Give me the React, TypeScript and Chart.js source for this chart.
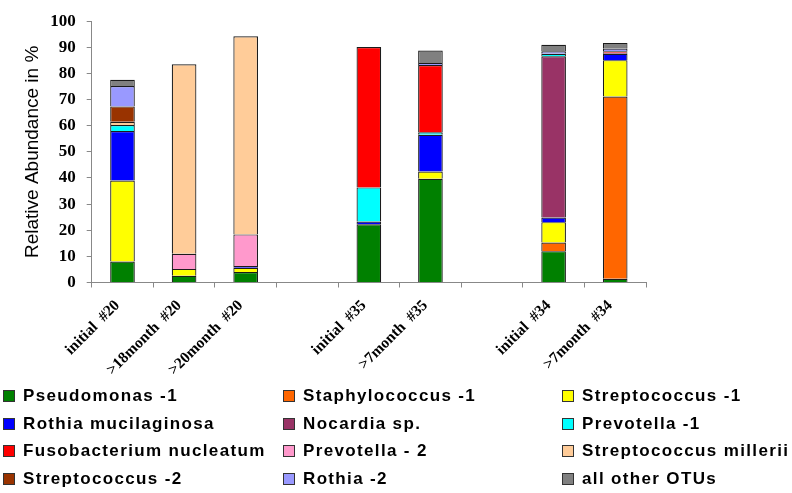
import React, { useEffect, useRef } from 'react';
import { Chart, registerables } from 'chart.js';

Chart.register(...registerables);

const categories = ['initial\u00A0\u00A0#20', '>18month\u00A0\u00A0#20', '>20month\u00A0\u00A0#20', '', 'initial\u00A0\u00A0#35', '>7month\u00A0\u00A0#35', '', 'initial\u00A0\u00A0#34', '>7month\u00A0\u00A0#34'];

const pseudomonas1 = [8, 2.6, 4, 0, 22.3, 39.7, 0, 12, 1.4];
const staphylococcus1 = [0, 0, 0, 0, 0, 0, 0, 3.3, 69.8];
const streptococcus1 = [31, 2.6, 1.6, 0, 0, 2.8, 0, 7.8, 13.9];
const rothiaMucilaginosa = [19, 0, 0.7, 0, 1.0, 14, 0, 1.8, 2.4];
const nocardiaSp = [0, 0, 0, 0, 0, 0, 0, 61.7, 0.4];
const prevotella1 = [2.3, 0, 0, 0, 13.1, 1.0, 0, 0.9, 0];
const fusobacteriumNucleatum = [0, 0, 0, 0, 53.7, 25.7, 0, 0, 0.6];
const prevotella2 = [0, 5.8, 12.1, 0, 0, 0, 0, 0, 0];
const streptococcusMillerii = [1.2, 72.5, 75.8, 0, 0, 0, 0, 0, 0];
const streptococcus2 = [5.9, 0, 0, 0, 0, 0, 0, 0, 0];
const rothia2 = [7.8, 0, 0, 0, 0, 0.8, 0, 1.0, 1.0];
const allOtherOTUs = [2.4, 0, 0, 0, 0, 4.8, 0, 2.5, 2.2];

const seriesNames = [
  'Pseudomonas -1', 'Staphylococcus -1', 'Streptococcus -1',
  'Rothia mucilaginosa', 'Nocardia sp.', 'Prevotella -1',
  'Fusobacterium nucleatum', 'Prevotella - 2', 'Streptococcus millerii',
  'Streptococcus -2', 'Rothia -2', 'all other OTUs',
];
const seriesValues = [
  pseudomonas1, staphylococcus1, streptococcus1,
  rothiaMucilaginosa, nocardiaSp, prevotella1,
  fusobacteriumNucleatum, prevotella2, streptococcusMillerii,
  streptococcus2, rothia2, allOtherOTUs,
];
const seriesColors = [
  '#008000', '#FF6600', '#FFFF00',
  '#0000FF', '#993366', '#00FFFF',
  '#FF0000', '#FF99CC', '#FFCC99',
  '#993300', '#9999FF', '#808080',
];

const yTicks = [0, 10, 20, 30, 40, 50, 60, 70, 80, 90, 100];

const legendColX = [3, 283, 562];
const legendRowY = [396, 424, 451, 479];

export default function App() {
  const canvasRef = useRef<HTMLCanvasElement | null>(null);

  useEffect(() => {
    document.body.style.margin = '0';
    const canvas = canvasRef.current;
    if (!canvas) return;
    const chart = new Chart(canvas, {
      type: 'bar',
      data: {
        labels: categories,
        datasets: seriesNames.map((name, i) => ({
          label: name,
          data: seriesValues[i].map((v) => (v === 0 ? null : v)),
          backgroundColor: seriesColors[i],
          borderColor: 'rgba(15,15,15,0.95)',
          borderWidth: 1.2,
          barPercentage: 0.4,
          categoryPercentage: 1,
        })),
      },
      options: {
        animation: false,
        responsive: false,
        maintainAspectRatio: false,
        layout: { padding: { top: 9.5, right: 146, left: 0, bottom: 0 } },
        plugins: { legend: { display: false }, tooltip: { enabled: false } },
        scales: {
          x: {
            stacked: true,
            grid: { display: true, drawOnChartArea: false, offset: true, tickLength: 5, color: '#888' },
            border: { color: '#888' },
            ticks: {
              autoSkip: false,
              maxRotation: 45,
              minRotation: 45,
              color: '#000',
              padding: 9,
              labelOffset: -5,
              font: { family: 'Liberation Serif', weight: 'bold', size: 15.5 },
            },
            afterFit: (s: any) => { s.height = 210.5; },
          },
          y: {
            stacked: true,
            min: 0,
            max: 100,
            afterBuildTicks: (s: any) => { s.ticks = yTicks.map((v) => ({ value: v })); },
            ticks: {
              color: '#000',
              padding: 11,
              font: { family: 'Liberation Serif', weight: 'bold', size: 17 },
            },
            grid: { display: true, drawOnChartArea: false, tickLength: 5, color: '#888' },
            border: { color: '#888' },
            title: {
              display: true,
              text: 'Relative Abundance in %',
              color: '#000',
              font: { family: 'Liberation Sans', size: 19 },
              padding: { top: 21, bottom: 0 },
            },
            afterFit: (s: any) => { s.width = 91.7; },
          },
        },
      },
    });
    return () => chart.destroy();
  }, []);

  return (
    <div style={{ position: 'relative', width: 792, height: 493, background: '#fff', overflow: 'hidden' }}>
      <canvas ref={canvasRef} width={792} height={493} style={{ display: 'block', position: 'absolute', left: 0, top: 0 }} />
      {seriesNames.map((name, i) => (
        <div
          key={name}
          style={{
            position: 'absolute',
            left: legendColX[i % 3],
            top: legendRowY[Math.floor(i / 3)] - 10,
            height: 20,
            display: 'flex',
            alignItems: 'center',
            whiteSpace: 'nowrap',
            fontFamily: '"Liberation Sans", Arial, sans-serif',
            fontWeight: 'bold',
            fontSize: 17,
            letterSpacing: '1.35px',
            color: '#000',
          }}
        >
          <span
            style={{
              display: 'inline-block',
              width: 10,
              height: 10,
              border: '1px solid #333',
              background: seriesColors[i],
              marginRight: 8,
            }}
          />
          <span>{name}</span>
        </div>
      ))}
    </div>
  );
}
